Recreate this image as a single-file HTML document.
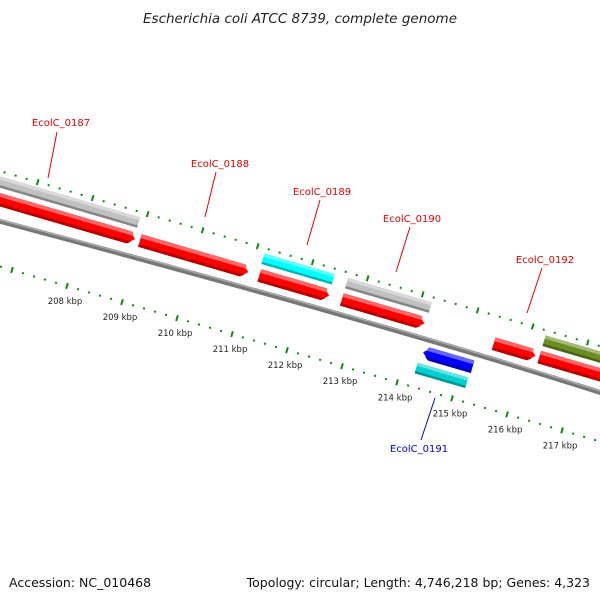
<!DOCTYPE html>
<html><head><meta charset="utf-8"><style>
body{margin:0;background:#fff}
svg{display:block;font-family:"DejaVu Sans","Liberation Sans",sans-serif}
</style></head><body>
<svg id="c" width="600" height="600" viewBox="0 0 600 600">
<defs>
<linearGradient id="gb" x1="0" y1="0" x2="0" y2="1"><stop offset="0" stop-color="#b0b0b0"/><stop offset="0.5" stop-color="#888"/><stop offset="1" stop-color="#666"/></linearGradient>
</defs>
<text x="300" y="23" text-anchor="middle" font-style="italic" font-size="13.5" fill="#222">Escherichia coli ATCC 8739, complete genome</text>
<path d="M-5,220 Q380,322 605,394" stroke="#777" stroke-width="5" fill="none"/>
<path d="M-5,218.5 Q380,320.5 605,392.5" stroke="#aaa" stroke-width="1.5" fill="none"/>
<g id="feat"></g>
<g id="ticks"></g>
<g id="labels"></g>
<text x="9" y="587" font-size="12.5" fill="#111">Accession: NC_010468</text>
<text x="590" y="587" text-anchor="end" font-size="12.5" fill="#111">Topology: circular; Length: 4,746,218 bp; Genes: 4,323</text>
</svg>
<script>
const featStart=[206.0,206.0,209.0,211.15,211.17,212.67,212.67,214.29,214.25,215.43,216.26,216.26];
const featEnd=[208.89,208.91,210.97,212.43,212.44,214.19,214.17,215.19,215.17,216.19,218.2,218.2];
const featRow=["top","fwd","fwd","top","fwd","top","fwd","rev","rev2","fwd","top","fwd"];
const featColor=["#c0c0c0","#ff0000","#ff0000","#00ffff","#ff0000","#c0c0c0","#ff0000","#0000ff","#00d0d0","#ff0000","#6b8e23","#ff0000"];
const featArrow=[0,1,1,0,1,0,1,-1,0,1,0,1];
const tickLabels=[208,209,210,211,212,213,214,215,216,217];
const geneNames=["EcolC_0187","EcolC_0188","EcolC_0189","EcolC_0190","EcolC_0192","EcolC_0191"];
const geneColors=["#e00000","#e00000","#e00000","#e00000","#e00000","#0000e0"];

const NS="http://www.w3.org/2000/svg";
const ang=16.26*Math.PI/180, dx=Math.cos(ang), dy=Math.sin(ang);
const O=[79.5,243.2], K0=208, PX=57.3;
const rowV={top:[-42,-31],fwd:[-26,-13],rev:[2,15],rev2:[20,31]};
function uScale(k){return (k-K0)*PX;}
function toXY(u,v){return [O[0]+u*dx-v*dy,O[1]+u*dy+v*dx];}
function pts(a){return a.map(p=>toXY(p[0],p[1]).map(n=>n.toFixed(1)).join(",")).join(" ");}
function shade(c,f){const n=parseInt(c.slice(1),16);let r=n>>16,g=(n>>8)&255,b=n&255;
 if(f>0){r+=(255-r)*f;g+=(255-g)*f;b+=(255-b)*f;}else{r*=1+f;g*=1+f;b*=1+f;}
 return "rgb("+[r,g,b].map(Math.round).join(",")+")";}
const fg=document.getElementById("feat");
for(let i=0;i<featStart.length;i++){
 const u0=uScale(featStart[i]),u1=uScale(featEnd[i]);const [v0,v1]=rowV[featRow[i]];const vm=(v0+v1)/2;
 let shape;
 if(featArrow[i]===1) shape=[[u0,v0],[u1-7,v0],[u1,vm],[u1-7,v1],[u0,v1]];
 else if(featArrow[i]===-1) shape=[[u0+7,v0],[u1,v0],[u1,v1],[u0+7,v1],[u0,vm]];
 else shape=[[u0,v0],[u1,v0],[u1,v1],[u0,v1]];
 const g=document.createElementNS(NS,"g");
 
 
 const p=document.createElementNS(NS,"polygon");
 p.setAttribute("points",pts(shape));p.setAttribute("fill",featColor[i]);
 g.appendChild(p);
 const hl=document.createElementNS(NS,"polygon");
 const hv=v0+(v1-v0)*0.3;
 hl.setAttribute("points",pts([[u0+(featArrow[i]===-1?4:0),v0],[u1-(featArrow[i]===1?4:0),v0],[u1-(featArrow[i]===1?3:0),hv],[u0+(featArrow[i]===-1?3:0),hv]]));
 hl.setAttribute("fill",shade(featColor[i],0.4));g.appendChild(hl);
 const dk=document.createElementNS(NS,"polygon");
 const dv=v0+(v1-v0)*0.78;
 dk.setAttribute("points",pts([[u0+(featArrow[i]===-1?3:0),dv],[u1-(featArrow[i]===1?3:0),dv],[u1-(featArrow[i]===1?7:0),v1],[u0+(featArrow[i]===-1?7:0),v1]]));
 dk.setAttribute("fill",shade(featColor[i],-0.3));g.appendChild(dk);
 fg.appendChild(g);
}
const tg=document.getElementById("ticks");
[-47,44.6].forEach(function(tv){
 for(let s=0;s<=60;s++){const k=206.4+s*0.2;const major=Math.abs(k-Math.round(k))<0.01;
  const u=uScale(k);const a=toXY(u,tv-(major?3:1)),b=toXY(u,tv+(major?3:1));
  const l=document.createElementNS(NS,"line");
  
  
  l.setAttribute("x1",a[0]);l.setAttribute("y1",a[1]);l.setAttribute("x2",b[0]);l.setAttribute("y2",b[1]);
  l.setAttribute("stroke","#0a8a0a");l.setAttribute("stroke-width",2);tg.appendChild(l);}
});
tickLabels.forEach(function(k){const p=toXY(uScale(k),44.6);
 const t=document.createElementNS(NS,"text");
 
 
 t.setAttribute("x",p[0]-2);t.setAttribute("y",p[1]+18);t.setAttribute("text-anchor","middle");
 t.setAttribute("font-size","8.5");t.setAttribute("fill","#222");t.textContent=k+" kbp";tg.appendChild(t);});
const labelPos=[[61,126,57,132,48,178],[220,167,216,172,205,217],[322,195,320,200,307,245],[412,222,410,227,396,272],[545,263,542,268,527,313],[419,452,435,398,421,440]];
const lg=document.getElementById("labels");
geneNames.forEach(function(n,i){const q=labelPos[i];
 const l=document.createElementNS(NS,"line");
 
 
 l.setAttribute("x1",q[2]);l.setAttribute("y1",q[3]);l.setAttribute("x2",q[4]);l.setAttribute("y2",q[5]);
 l.setAttribute("stroke",geneColors[i]);l.setAttribute("stroke-width",1);lg.appendChild(l);
 const t=document.createElementNS(NS,"text");
 
 
 t.setAttribute("x",q[0]);t.setAttribute("y",q[1]);t.setAttribute("text-anchor","middle");
 t.setAttribute("font-size","10");t.setAttribute("fill",geneColors[i]);t.textContent=n;lg.appendChild(t);});
</script>
</body></html>
